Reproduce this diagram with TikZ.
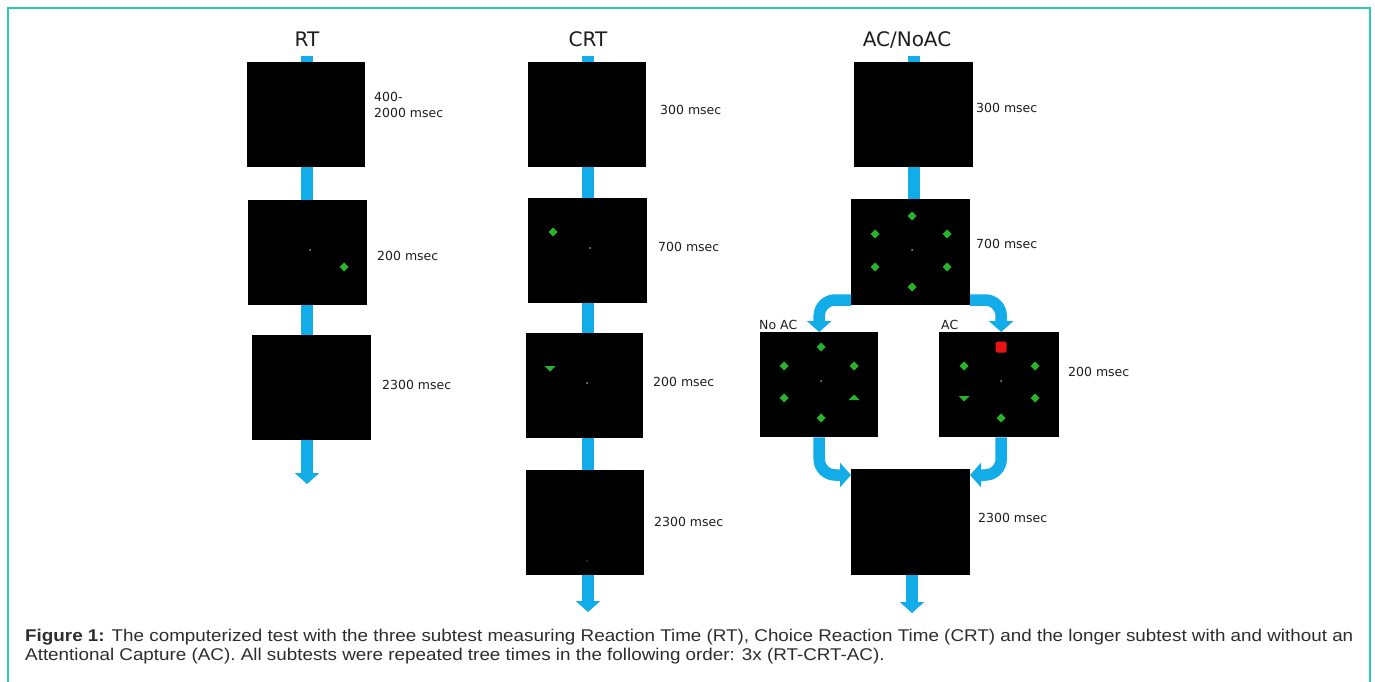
\documentclass[tikz,border=0pt]{standalone}
\usepackage{fontspec}
\setmainfont{DejaVu Sans}
\newfontfamily\capfont{Liberation Sans}
\usetikzlibrary{arrows.meta}
\definecolor{flowblue}{RGB}{18,172,232}
\definecolor{stimgreen}{RGB}{38,180,40}
\definecolor{framecol}{RGB}{45,200,175}
\definecolor{txt}{RGB}{30,30,30}
\definecolor{captxt}{RGB}{45,45,45}
\definecolor{stimred}{RGB}{235,20,20}
\begin{document}
\begin{tikzpicture}[x=1pt,y=-1pt,
  screen/.style={fill=black, draw=none, inner sep=0, anchor=north west},
  stemline/.style={draw=flowblue, line width=11.5pt},
  flowarrow/.style={draw=flowblue, line width=11.5pt, -{Triangle[width=24pt,length=11pt]}},
  lbl/.style={anchor=base west, inner sep=0, text=txt, font=\fontsize{12.5}{16}\selectfont},
  ttl/.style={anchor=base, inner sep=0, text=txt, font=\fontsize{20}{24}\selectfont},
  captext/.style={anchor=base west, inner sep=0, text=captxt, font=\capfont\fontsize{17}{19}\selectfont},
  dia/.pic={\fill[stimgreen] (0,-4.5)--(4.5,0)--(0,4.5)--(-4.5,0)--cycle;},
  tridown/.pic={\fill[stimgreen] (-5.5,-2)--(5.5,-2)--(0,3.5)--cycle;},
  triup/.pic={\fill[stimgreen] (-5.5,2)--(5.5,2)--(0,-3.5)--cycle;},
  fix/.pic={\fill[gray!80!white] (0,0) circle (1);}
]
\useasboundingbox (0,0) rectangle (1375,682);
\clip (0,0) rectangle (1375,682);
\fill[white] (0,0) rectangle (1375,682);
\draw[framecol, line width=2pt] (8,8) rectangle (1370,720);

% ---------------- RT column ----------------
\node[ttl] (tRT) at (307,47) {RT};
\node[screen, minimum width=118pt, minimum height=105pt] (r1) at (247,62) {};
\node[screen, minimum width=119pt, minimum height=105pt] (r2) at (248,200) {};
\node[screen, minimum width=119pt, minimum height=105pt] (r3) at (252,335) {};
\pic at (310,250) {fix};
\pic at (344,267) {dia};
\node[anchor=north west, inner sep=0, text=txt, align=left, font=\fontsize{12.5}{16}\selectfont] (l400) at (374,92) {400-\\2000 msec};
\node[lbl] (lr2) at (377,260) {200 msec};
\node[lbl] (lr3) at (382,389) {2300 msec};
\coordinate (rx0) at (307,56);
\coordinate (rx1) at (307,484);
\draw[stemline] (rx0) -- (r1.north -| rx0);
\draw[stemline] (r1.south -| rx0) -- (r2.north -| rx0);
\draw[stemline] (r2.south -| rx0) -- (r3.north -| rx0);
\draw[flowarrow] (r3.south -| rx1) -- (rx1);

% ---------------- CRT column ----------------
\node[ttl] (tCRT) at (588,47) {CRT};
\node[screen, minimum width=118pt, minimum height=105pt] (c1) at (528,62) {};
\node[screen, minimum width=119pt, minimum height=105pt] (c2) at (528,198) {};
\node[screen, minimum width=117pt, minimum height=105pt] (c3) at (526,333) {};
\node[screen, minimum width=118pt, minimum height=105pt] (c4) at (526,470) {};
\pic at (553,232) {dia};
\pic at (590,248) {fix};
\pic at (550,368) {tridown};
\pic at (587,383) {fix};
\fill[black!75!white] (587,561) circle (1);
\node[lbl] (lc1) at (660,114) {300 msec};
\node[lbl] (lc2) at (658,251) {700 msec};
\node[lbl] (lc3) at (653,386) {200 msec};
\node[lbl] (lc4) at (654,526) {2300 msec};
\coordinate (cx0) at (588,56);
\coordinate (cx1) at (588,612);
\draw[stemline] (cx0) -- (c1.north -| cx0);
\draw[stemline] (c1.south -| cx0) -- (c2.north -| cx0);
\draw[stemline] (c2.south -| cx0) -- (c3.north -| cx0);
\draw[stemline] (c3.south -| cx0) -- (c4.north -| cx0);
\draw[flowarrow] (c4.south -| cx1) -- (cx1);

% ---------------- AC/NoAC column ----------------
\node[ttl] (tAC) at (907,47) {AC/NoAC};
\node[screen, minimum width=119pt, minimum height=105pt] (a1) at (854,62) {};
\node[screen, minimum width=119pt, minimum height=106pt] (a2) at (851,199) {};
\node[screen, minimum width=118pt, minimum height=105pt] (noac) at (760,332) {};
\node[screen, minimum width=120pt, minimum height=105pt] (ac) at (939,332) {};
\node[screen, minimum width=119pt, minimum height=106pt] (a4) at (851,469) {};
% 700 msec display
\pic at (912,216) {dia};
\pic at (875,234) {dia};
\pic at (947,234) {dia};
\pic at (875,267) {dia};
\pic at (947,267) {dia};
\pic at (912,287) {dia};
\pic at (912,250) {fix};
% No AC display
\pic at (821,347) {dia};
\pic at (784,366) {dia};
\pic at (854,366) {dia};
\pic at (784,398) {dia};
\pic at (854,398) {triup};
\pic at (821,418) {dia};
\pic at (821,381) {fix};
% AC display
\fill[stimred, rounded corners=1.5pt] (995.5,341.5) rectangle (1006.5,352.5);
\pic at (964,366) {dia};
\pic at (1035,366) {dia};
\pic at (964,398) {tridown};
\pic at (1035,398) {dia};
\pic at (1001,418) {dia};
\pic at (1001,381) {fix};
% labels
\node[lbl] (la1) at (976,113) {300 msec};
\node[lbl] (la2) at (976,248) {700 msec};
\node[lbl] (lnoac) at (759,329) {No AC};
\node[lbl] (lac) at (941,329) {AC};
\node[lbl] (la3) at (1068,376) {200 msec};
\node[lbl] (la4) at (978,522) {2300 msec};
% connectors
\coordinate (ax0) at (914,56);
\coordinate (ax1) at (912,613);
\coordinate (bl) at (851,300);
\coordinate (br) at (970,300);
\coordinate (jl) at (851,475);
\coordinate (jr) at (970,475);
\draw[stemline] (ax0) -- (a1.north -| ax0);
\draw[stemline] (a1.south -| ax0) -- (a2.north -| ax0);
\draw[flowarrow, rounded corners=16pt] (bl) -| (noac.north);
\draw[flowarrow, rounded corners=16pt] (br) -| ([xshift=2pt]ac.north);
\draw[flowarrow, rounded corners=16pt] (noac.south) |- (jl);
\draw[flowarrow, rounded corners=16pt] ([xshift=2pt]ac.south) |- (jr);
\draw[flowarrow] (a4.south -| ax1) -- (ax1);

% ---------------- caption ----------------
\node[captext] (cap1) at (25,641) {\scalebox{1.108}[1]{\textbf{Figure 1:} The computerized test with the three subtest measuring Reaction Time (RT), Choice Reaction Time (CRT) and the longer subtest with and without an}};
\node[captext] (cap2) at (25,660) {\scalebox{1.108}[1]{Attentional Capture (AC). All subtests were repeated tree times in the following order: 3x (RT-CRT-AC).}};
\end{tikzpicture}
\end{document}
